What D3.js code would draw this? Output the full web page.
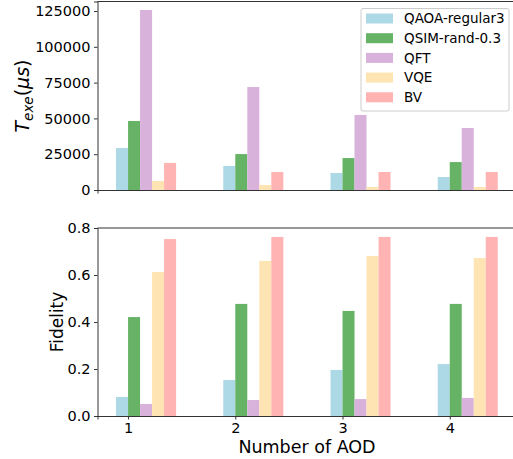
<!DOCTYPE html>
<html lang="en">
<head>
  <meta charset="UTF-8">
  <title>AOD chart</title>
  <script src="https://cdn.jsdelivr.net/npm/d3@7"></script>
  <style>
    body { margin: 0; background: #fff; }
    text { font-family: "DejaVu Sans", sans-serif; fill: #000; }
  </style>
</head>
<body>
<svg width="513" height="459"></svg>
<script>
    // data
    var aods = [1, 2, 3, 4];
    var series = ["QAOA-regular3", "QSIM-rand-0.3", "QFT", "VQE", "BV"];
    var colors = ["#add8e6", "#66b366", "#d8b2da", "#ffe4b3", "#ffb3b3"];

    var texe = [
        [29300, 16800, 11900, 9100],
        [48200, 25100, 22300, 19500],
        [125700, 71900, 52400, 43300],
        [6300, 3500, 2100, 2100],
        [18900, 12600, 12600, 12600]
    ];
    var fidelity = [
        [0.081, 0.153, 0.196, 0.221],
        [0.421, 0.477, 0.447, 0.477],
        [0.051, 0.068, 0.072, 0.077],
        [0.613, 0.660, 0.681, 0.672],
        [0.753, 0.762, 0.762, 0.762]
    ];
    var texeTicks = [0, 25000, 50000, 75000, 100000, 125000];
    var fidTicks = [0, 0.2, 0.4, 0.6, 0.8];

    var svg = d3.select("svg");
    var barW = 0.112;

    var x = d3.scaleLinear().domain([0.715, 4.59]).range([97.5, 513]);

    function panel(top, bottom, yMax, data, ticks, fmt, showX) {
        var y = d3.scaleLinear().domain([0, yMax]).range([bottom, top]);
        var g = svg.append("g");

        series.forEach(function (s, i) {
            g.selectAll(null)
                .data(data[i])
                .enter().append("rect")
                .attr("x", function (d, j) { return x(aods[j] + (i - 1) * barW); })
                .attr("width", x(barW) - x(0))
                .attr("y", function (d) { return y(d); })
                .attr("height", function (d) { return y(0) - y(d); })
                .attr("fill", colors[i]);
        });

        var ya = g.append("g")
            .attr("transform", "translate(97.5,0)")
            .call(d3.axisLeft(y).tickValues(ticks).tickFormat(fmt).tickSizeOuter(0).tickSize(3.5).tickPadding(3.5));
        ya.select(".domain").attr("stroke", "#333").attr("stroke-width", 1);
        ya.selectAll(".tick line").attr("stroke", "#333");
        ya.selectAll(".tick text").style("font-size", "14.5px").style("font-family", "DejaVu Sans").attr("fill", "#000");

        var xa = g.append("g")
            .attr("transform", "translate(0," + bottom + ")")
            .call(d3.axisBottom(x).tickValues(showX ? aods : []).tickFormat(d3.format("d")).tickSizeOuter(0).tickSize(3.5).tickPadding(3.5));
        xa.select(".domain").attr("stroke", "#333").attr("stroke-width", 1);
        xa.selectAll(".tick line").attr("stroke", "#333");
        xa.selectAll(".tick text").style("font-size", "14.5px").style("font-family", "DejaVu Sans").attr("fill", "#000");

        // top spine
        g.append("line")
            .attr("x1", 97.5).attr("x2", 513)
            .attr("y1", top).attr("y2", top)
            .attr("stroke", "#333");
        return y;
    }

    // 125000 sits at y=11 in the reference, axis top at 1.5
    panel(1.5, 190, 125000 * 188.5 / 179, texe, texeTicks, d3.format("d"), false);
    panel(228, 416, 0.8, fidelity, fidTicks, d3.format(".1f"), true);

    // axis titles
    var tl = svg.append("text")
        .attr("transform", "translate(29,96) rotate(-90)")
        .attr("text-anchor", "middle")
        .style("font-size", "19px");
    tl.append("tspan").style("font-style", "italic").text("T");
    tl.append("tspan").style("font-style", "italic").style("font-size", "13.5px").attr("dy", 4).text("exe");
    tl.append("tspan").attr("dy", -4).text("(");
    tl.append("tspan").style("font-style", "italic").text("μs");
    tl.append("tspan").text(")");

    svg.append("text")
        .attr("transform", "translate(63,322) rotate(-90)")
        .attr("text-anchor", "middle")
        .style("font-size", "17px")
        .text("Fidelity");

    svg.append("text")
        .attr("x", 307).attr("y", 453)
        .attr("text-anchor", "middle")
        .style("font-size", "17.5px")
        .text("Number of AOD");

    // legend
    var lg = svg.append("g");
    lg.append("rect")
        .attr("x", 361).attr("y", 8.5)
        .attr("width", 148).attr("height", 102.5)
        .attr("rx", 2)
        .attr("fill", "#fff").attr("fill-opacity", 0.8)
        .attr("stroke", "#ccc");
    series.forEach(function (s, i) {
        var yy = 18.5 + i * 19.7;
        lg.append("rect")
            .attr("x", 366).attr("y", yy - 5)
            .attr("width", 27).attr("height", 10)
            .attr("fill", colors[i]);
        lg.append("text")
            .attr("x", 404).attr("y", yy)
            .attr("dy", "0.35em")
            .style("font-size", "13.5px")
            .text(s);
    });
</script>
</body>
</html>
